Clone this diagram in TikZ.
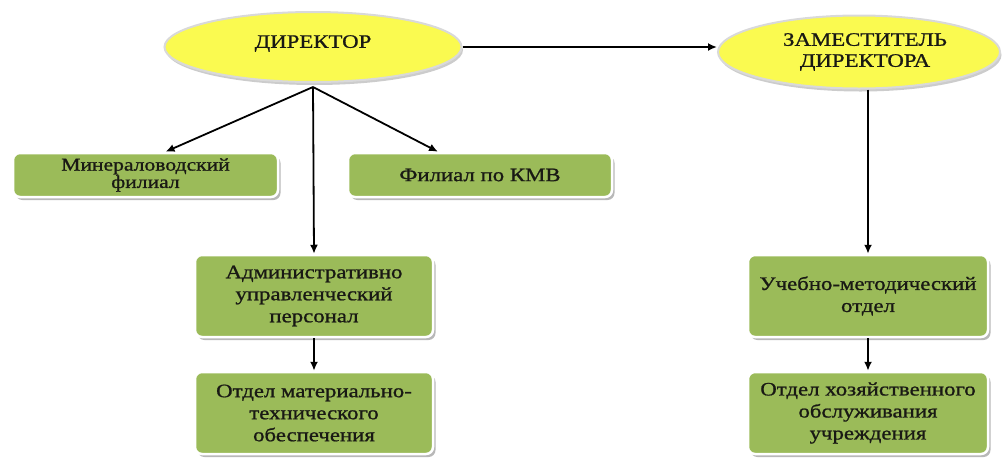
\documentclass[tikz,border=0pt]{standalone}
\usepackage{fontspec}
\setmainfont{Liberation Serif}[FakeStretch=1.2, FakeBold=1]
\usetikzlibrary{shapes.geometric,arrows.meta,shadows,calc}
\definecolor{boxgreen}{RGB}{155,187,89}
\definecolor{ellyellow}{RGB}{250,250,80}
\definecolor{txt}{RGB}{25,25,20}
\tikzset{
  greenbox/.style={rectangle, rounded corners=7pt, fill=boxgreen, draw=white, line width=2.5pt,
    drop shadow={shadow xshift=2.5pt, shadow yshift=-3pt, fill=black!35, opacity=0.8},
    align=center, text=txt, font=\fontsize{19}{22}\selectfont, inner sep=2pt},
  yellowell/.style={ellipse, fill=ellyellow, draw=black!15, line width=2pt,
    drop shadow={shadow xshift=1.5pt, shadow yshift=-3pt, fill=black!25, opacity=0.8},
    align=center, text=txt, font=\fontsize{19}{21}\selectfont, inner sep=0pt},
  conn/.style={line width=1.8pt, -{Latex[length=9pt,width=8pt]}}
}
\begin{document}
\begin{tikzpicture}[x=1pt,y=-1pt]
\useasboundingbox (0,0) rectangle (1008,464);
\node[yellowell, minimum width=297pt, minimum height=70pt] (dir) at (313,47) {\raisebox{11pt}{ДИРЕКТОР}};
\node[yellowell, minimum width=282pt, minimum height=73pt] (zam) at (859,52) {\hspace*{12pt}ЗАМЕСТИТЕЛЬ\\\hspace*{12pt}ДИРЕКТОРА};
\node[greenbox, minimum width=265pt, minimum height=44pt, font=\fontsize{18}{16}\selectfont] (mine) at (145.5,175) {Минераловодский\\филиал};
\node[greenbox, minimum width=264pt, minimum height=44pt] (kmv) at (480,175) {Филиал по КМВ};
\node[greenbox, minimum width=238pt, minimum height=82pt] (adm) at (314,296) {Административно\\управленческий\\персонал};
\node[greenbox, minimum width=238pt, minimum height=82pt] (otdm) at (314,413) {Отдел материально-\\технического\\обеспечения};
\node[greenbox, minimum width=240pt, minimum height=82pt] (ucheb) at (868,296) {Учебно-методический\\отдел};
\node[greenbox, minimum width=240pt, minimum height=82pt] (hoz) at (868,413) {Отдел хозяйственного\\обслуживания\\учреждения};
\draw[conn] ([yshift=-4pt]dir.south) -- ([xshift=20pt]mine.north);
\draw[conn] ([yshift=-4pt]dir.south) -- ([xshift=-42pt]kmv.north);
\draw[conn] ([yshift=-4pt]dir.south) -- (adm.north);
\draw[conn] (adm.south) -- (otdm.north);
\draw[conn] (dir.east) -- (dir.east -| zam.west);
\draw[conn] (ucheb.north |- zam.south) -- (ucheb.north);
\draw[conn] (ucheb.south) -- (hoz.north);
\end{tikzpicture}
\end{document}
